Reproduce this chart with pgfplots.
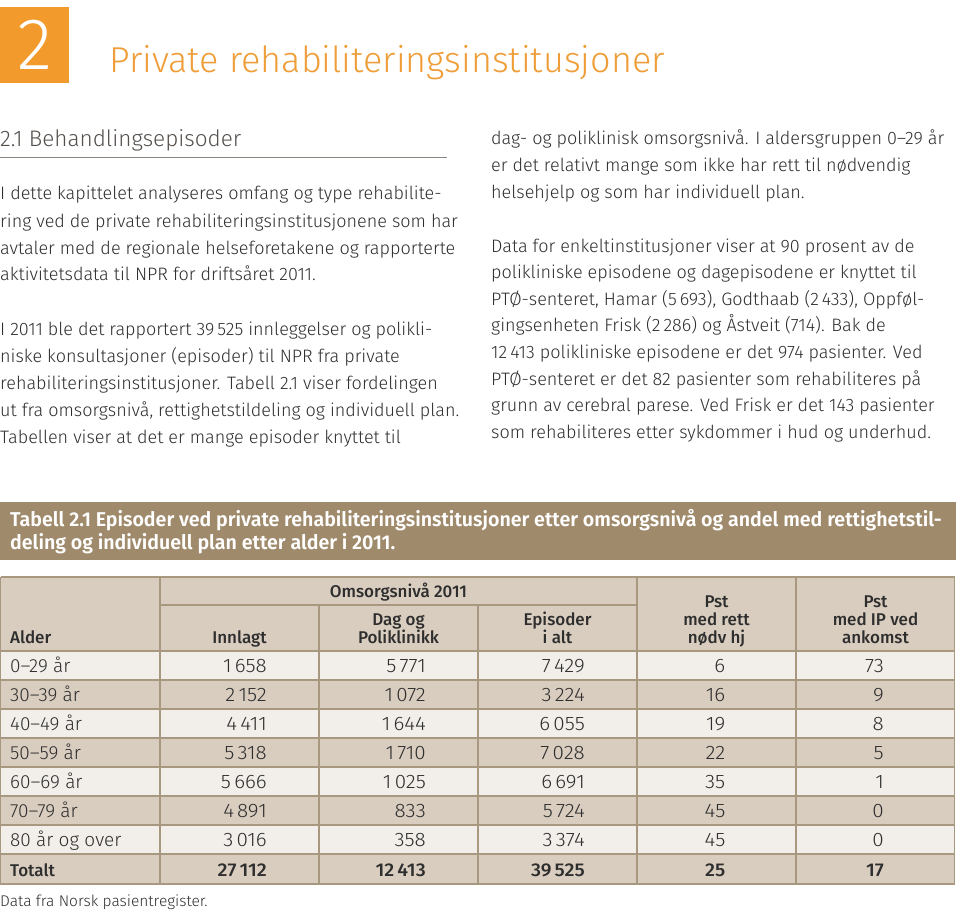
\documentclass[border=0pt]{standalone}
\usepackage{pgfplots}
\pgfplotsset{compat=1.18}
\usepackage{pgfplotstable}
\usepackage{fontspec}
\setmainfont{Fira Sans}[UprightFont={* Light}, BoldFont={* Medium}, FakeStretch=1.0]
\newfontfamily\capfont{Fira Sans}[UprightFont={* Medium}, BoldFont={* SemiBold}, FakeStretch=0.98]
\newfontfamily\bignum{Fira Sans}[UprightFont={* Light}]
\newfontfamily\numfont{Fira Sans}[UprightFont={* Light}, BoldFont={* Medium}, FakeStretch=1.06]

\definecolor{orng}{HTML}{F39A2C}
\definecolor{ttl}{HTML}{EE9D38}
\definecolor{hd}{HTML}{55504C}
\definecolor{txt}{HTML}{2E2E2E}
\definecolor{capbg}{HTML}{A08A6C}
\definecolor{tan}{HTML}{D9CDBF}
\definecolor{lite}{HTML}{F2EFEA}
\definecolor{grid}{HTML}{A8987F}
\definecolor{rule}{HTML}{8C8680}

\newcommand{\body}{\fontsize{18}{20}\selectfont}
\newcommand{\cell}{\fontsize{19}{20}\selectfont}
\newcommand{\ncell}{\numfont\fontsize{19.5}{20}\selectfont}
\newcommand{\tcell}{\numfont\fontsize{18.5}{20}\selectfont\bfseries}
\newcommand{\hcell}{\fontsize{17}{20}\selectfont\bfseries}

% table values (row baseline y, then columns)
\pgfplotstableread{
y     innlagt dag  episoder rett ip
672.5 1658    5771 7429     6    73
701.5 2152    1072 3224     16   9
730.5 4411    1644 6055     19   8
759.5 5318    1710 7028     22   5
788.5 5666    1025 6691     35   1
817.5 4891    833  5724     45   0
846.5 3016    358  3374     45   0
}\tabrows
\pgfplotstableread{
y     innlagt dag   episoder rett ip
876.5 27112   12413 39525    25   17
}\tabtotal
\pgfplotstableread[col sep=comma]{
y,label
672.5,0–29 år
701.5,30–39 år
730.5,40–49 år
759.5,50–59 år
788.5,60–69 år
817.5,70–79 år
846.5,80 år og over
}\agelabels

\newcommand{\tl}[3]{\node[anchor=base west, inner sep=0pt, text=txt, font=\body] at (axis cs:#1,#2) {#3};}
\newcommand{\hl}[3]{\node[anchor=base, inner sep=0pt, text=txt, font=\hcell] at (axis cs:#1,#2) {#3};}

\begin{document}
\begin{tikzpicture}
\begin{axis}[
  scale only axis, width=960pt, height=912pt,
  xmin=0, xmax=960, ymin=0, ymax=912, y dir=reverse,
  axis lines=none, clip=false,
  /pgf/number format/assume math mode=true,
]
% ---- header block
\addplot[fill=orng, draw=none] coordinates {(0,7) (69,7) (69,83) (0,83)} -- cycle;
\node[anchor=base, inner sep=0pt, text=white, font=\bignum\fontsize{73}{73}\selectfont] at (axis cs:34.5,70) {2};
\node[anchor=base west, inner sep=0pt, text=ttl, font=\fontsize{36}{38}\selectfont] at (axis cs:109,73) {Private rehabiliteringsinstitusjoner};
\node[anchor=base west, inner sep=0pt, text=hd, font=\fontsize{22.5}{24}\selectfont] at (axis cs:0,147) {2.1 Behandlingsepisoder};
\addplot[draw=rule, line width=1pt] coordinates {(0,158) (447,158)};

% ---- left column
\tl{0}{200}{I dette kapittelet analyseres omfang og type rehabilite-}
\tl{0}{227}{ring ved de private rehabiliteringsinstitusjonene som har}
\tl{0}{254}{avtaler med de regionale helseforetakene og rapporterte}
\tl{0}{280.7}{aktivitetsdata til NPR for driftsåret 2011.}
\tl{0}{335}{I 2011 ble det rapportert 39\,525 innleggelser og polikli-}
\tl{0}{362}{niske konsultasjoner (episoder) til NPR fra private}
\tl{0}{389}{rehabiliteringsinstitusjoner. Tabell 2.1 viser fordelingen}
\tl{0}{416}{ut fra omsorgsnivå, rettighetstildeling og individuell plan.}
\tl{0}{443}{Tabellen viser at det er mange episoder knyttet til}

% ---- right column
\tl{491}{145}{dag- og poliklinisk omsorgsnivå. I aldersgruppen 0–29 år}
\tl{491}{171.6}{er det relativt mange som ikke har rett til nødvendig}
\tl{491}{198.2}{helsehjelp og som har individuell plan.}
\tl{491}{252}{Data for enkeltinstitusjoner viser at 90 prosent av de}
\tl{491}{278.6}{polikliniske episodene og dagepisodene er knyttet til}
\tl{491}{305.2}{PTØ-senteret, Hamar (5\,693), Godthaab (2\,433), Oppføl-}
\tl{491}{331.8}{gingsenheten Frisk (2\,286) og Åstveit (714). Bak de}
\tl{491}{358.4}{12\,413 polikliniske episodene er det 974 pasienter. Ved}
\tl{491}{385}{PTØ-senteret er det 82 pasienter som rehabiliteres på}
\tl{491}{411.6}{grunn av cerebral parese. Ved Frisk er det 143 pasienter}
\tl{491}{438.2}{som rehabiliteres etter sykdommer i hud og underhud.}

% ---- caption bar
\addplot[fill=capbg, draw=none] coordinates {(0,502) (956,502) (956,560) (0,560)} -- cycle;
\node[anchor=base west, inner sep=0pt, text=white, font=\capfont\bfseries\fontsize{20}{20}\selectfont] at (axis cs:10,526.5) {Tabell 2.1 Episoder ved private rehabiliteringsinstitusjoner etter omsorgsnivå og andel med rettighetstil-};
\node[anchor=base west, inner sep=0pt, text=white, font=\capfont\bfseries\fontsize{20}{20}\selectfont] at (axis cs:10,549.5) {deling og individuell plan etter alder i 2011.};

% ---- table backgrounds
\addplot[fill=tan, draw=none] coordinates {(0,577) (955,577) (955,651) (0,651)} -- cycle;
\addplot[fill=lite, draw=none] coordinates {(0,651) (955,651) (955,680) (0,680)} -- cycle;
\addplot[fill=tan, draw=none] coordinates {(0,680) (955,680) (955,709) (0,709)} -- cycle;
\addplot[fill=lite, draw=none] coordinates {(0,709) (955,709) (955,738) (0,738)} -- cycle;
\addplot[fill=tan, draw=none] coordinates {(0,738) (955,738) (955,767) (0,767)} -- cycle;
\addplot[fill=lite, draw=none] coordinates {(0,767) (955,767) (955,796) (0,796)} -- cycle;
\addplot[fill=tan, draw=none] coordinates {(0,796) (955,796) (955,825) (0,825)} -- cycle;
\addplot[fill=lite, draw=none] coordinates {(0,825) (955,825) (955,854) (0,854)} -- cycle;
\addplot[fill=tan, draw=none] coordinates {(0,854) (955,854) (955,884) (0,884)} -- cycle;
% grid lines
\addplot[draw=grid, line width=1.2pt] coordinates {(0.6,577) (954.4,577) (954.4,884) (0.6,884) (0.6,577)};
\addplot[draw=grid, line width=1.2pt] coordinates {(160,605) (637,605)};
\addplot[draw=grid, line width=1.2pt] coordinates {(0,651) (955,651)};
\addplot[draw=grid, line width=1.2pt] coordinates {(0,680) (955,680)};
\addplot[draw=grid, line width=1.2pt] coordinates {(0,709) (955,709)};
\addplot[draw=grid, line width=1.2pt] coordinates {(0,738) (955,738)};
\addplot[draw=grid, line width=1.2pt] coordinates {(0,767) (955,767)};
\addplot[draw=grid, line width=1.2pt] coordinates {(0,796) (955,796)};
\addplot[draw=grid, line width=1.2pt] coordinates {(0,825) (955,825)};
\addplot[draw=grid, line width=1.2pt] coordinates {(0,854) (955,854)};
\addplot[draw=grid, line width=1.2pt] coordinates {(160,577) (160,884)};
\addplot[draw=grid, line width=1.2pt] coordinates {(319,605) (319,884)};
\addplot[draw=grid, line width=1.2pt] coordinates {(478,605) (478,884)};
\addplot[draw=grid, line width=1.2pt] coordinates {(637,577) (637,884)};
\addplot[draw=grid, line width=1.2pt] coordinates {(796,577) (796,884)};

% ---- header texts
\node[anchor=base west, inner sep=0pt, text=txt, font=\hcell] at (axis cs:10,643) {Alder};
\hl{398.5}{597.3}{Omsorgsnivå 2011}
\hl{239.5}{643}{Innlagt}
\hl{398.5}{625.5}{Dag og}
\hl{398.5}{643}{Poliklinikk}
\hl{557.5}{625.5}{Episoder}
\hl{557.5}{643}{i alt}
\hl{716.5}{607}{Pst}
\hl{716.5}{625}{med rett}
\hl{716.5}{643}{nødv hj}
\hl{875.5}{607}{Pst}
\hl{875.5}{625}{med IP ved}
\hl{875.5}{643}{ankomst}

% ---- row labels
\addplot[mark=none, draw=none, nodes near coords, point meta=explicit symbolic,
  nodes near coords style={anchor=base west, inner sep=0pt, text=txt, font=\cell}]
  table[x expr=10, y=y, meta=label] {\agelabels};
\node[anchor=base west, inner sep=0pt, text=txt, font=\hcell] at (axis cs:10,876.5) {Totalt};

% ---- numeric cells
\pgfplotsset{numcell/.style={mark=none, draw=none, nodes near coords={\pgfmathprintnumber[fixed, precision=0, 1000 sep={\,}]{\pgfplotspointmeta}}, point meta=explicit,
  nodes near coords style={anchor=base east, inner sep=0pt, text=txt, font=\ncell}},
  totcell/.style={numcell, nodes near coords style={font=\tcell}}}
\addplot[numcell] table[x expr=267, y=y, meta=innlagt] {\tabrows};
\addplot[numcell] table[x expr=426, y=y, meta=dag] {\tabrows};
\addplot[numcell] table[x expr=585, y=y, meta=episoder] {\tabrows};
\addplot[numcell] table[x expr=725.5, y=y, meta=rett] {\tabrows};
\addplot[numcell] table[x expr=884, y=y, meta=ip] {\tabrows};
\addplot[totcell] table[x expr=267, y=y, meta=innlagt] {\tabtotal};
\addplot[totcell] table[x expr=426, y=y, meta=dag] {\tabtotal};
\addplot[totcell] table[x expr=585, y=y, meta=episoder] {\tabtotal};
\addplot[totcell] table[x expr=725.5, y=y, meta=rett] {\tabtotal};
\addplot[totcell] table[x expr=884, y=y, meta=ip] {\tabtotal};

% ---- source
\node[anchor=base west, inner sep=0pt, text=txt, font=\fontsize{15.5}{18}\selectfont] at (axis cs:0,906.5) {Data fra Norsk pasientregister.};
\end{axis}
\pgfresetboundingbox
\useasboundingbox (current axis.south west) rectangle (current axis.north east);
\end{tikzpicture}
\end{document}
